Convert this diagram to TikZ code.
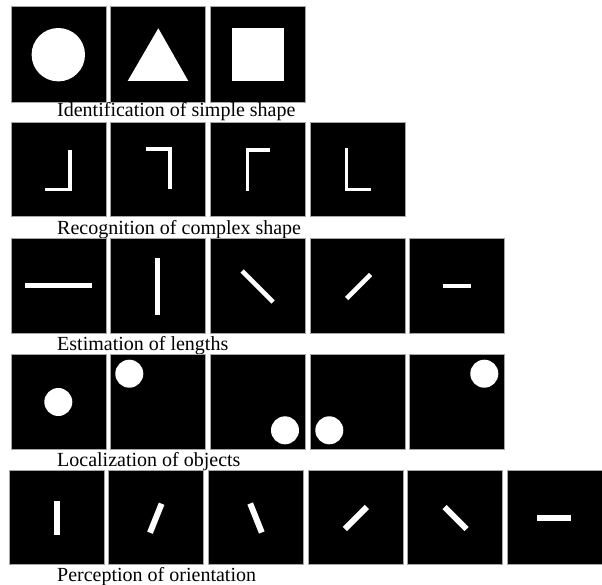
\documentclass[tikz,border=0pt]{standalone}
\usepackage{fontspec}
\setmainfont{Liberation Serif}
\begin{document}
\begin{tikzpicture}[x=1pt,y=-1pt,
  panel/.style={fill=black,draw=black!35,line width=0.8pt},
  wshape/.style={fill=white,draw=none},
  bar/.style={draw=white,line cap=butt},
  caption/.style={anchor=base west,inner sep=0pt,font=\fontsize{20}{24}\selectfont}]
\useasboundingbox[fill=white] (0,0) rectangle (602,585);
% row 1
\foreach \a/\b in {11/106,110/205,210/305}
  \filldraw[panel] (\a,6) rectangle (\b,102);
\fill[wshape] (58.3,54.7) circle (26.7);
\fill[wshape] (158.3,28.3) -- (188.3,81) -- (127.7,81) -- cycle;
\fill[wshape] (231.7,28.3) rectangle (284.3,81);
\node[caption] (c1) at (57,117) {Identification of simple shape};
% row 2
\foreach \a/\b in {11/106,110/205,210/305,310/405}
  \filldraw[panel] (\a,122.3) rectangle (\b,216.7);
\fill[wshape] (68.3,150) rectangle (71.7,191);
\fill[wshape] (45,187.7) rectangle (71.7,191);
\fill[wshape] (146,147.3) rectangle (171.7,150.7);
\fill[wshape] (168.3,147.3) rectangle (171.7,189);
\fill[wshape] (245.7,148.3) rectangle (270,151.7);
\fill[wshape] (245.7,148.3) rectangle (249,191);
\fill[wshape] (345,148.3) rectangle (348.3,191);
\fill[wshape] (345,187.7) rectangle (370.7,191);
\node[caption] (c2) at (57,234.3) {Recognition of complex shape};
% row 3
\foreach \a/\b in {11/106,110/205,210/305,310/405,409/504}
  \filldraw[panel] (\a,238.7) rectangle (\b,333);
\begin{scope}[bar,line width=4.6pt]
\draw (25,285.6) -- (91.7,285.6);
\draw (157.5,257.7) -- (157.5,314.7);
\draw (242,271) -- (273,302);
\draw (346.5,298.5) -- (370.5,274.5);
\draw (442.7,285.8) -- (470.7,285.8);
\end{scope}
\node[caption] (c3) at (57,350.3) {Estimation of lengths};
% row 4
\foreach \a/\b in {11/106,110/205,210/305,310/405,409/504}
  \filldraw[panel] (\a,354.3) rectangle (\b,449.7);
\foreach \x/\y in {58.3/402,129.3/373.7,285/430.3,329.3/430.3,484.3/373.7}
  \fill[wshape] (\x,\y) circle (14);
\node[caption] (c4) at (57,466.3) {Localization of objects};
% row 5
\foreach \a/\b in {9/104,108/203,208/303,308/403,407/502,507/602}
  \filldraw[panel] (\a,470.3) rectangle (\b,564.7);
\begin{scope}[bar,line width=6pt]
\draw (56.7,501.3) -- (56.7,534.7);
\draw (161.6,503.7) -- (150,532.7);
\draw (250.2,503.5) -- (261.8,532.5);
\draw (344.8,529) -- (366.8,507);
\draw (444.5,507) -- (466.5,529);
\draw (537.3,518) -- (570.7,518);
\end{scope}
\node[caption] (c5) at (57,581.3) {Perception of orientation};
\end{tikzpicture}
\end{document}
